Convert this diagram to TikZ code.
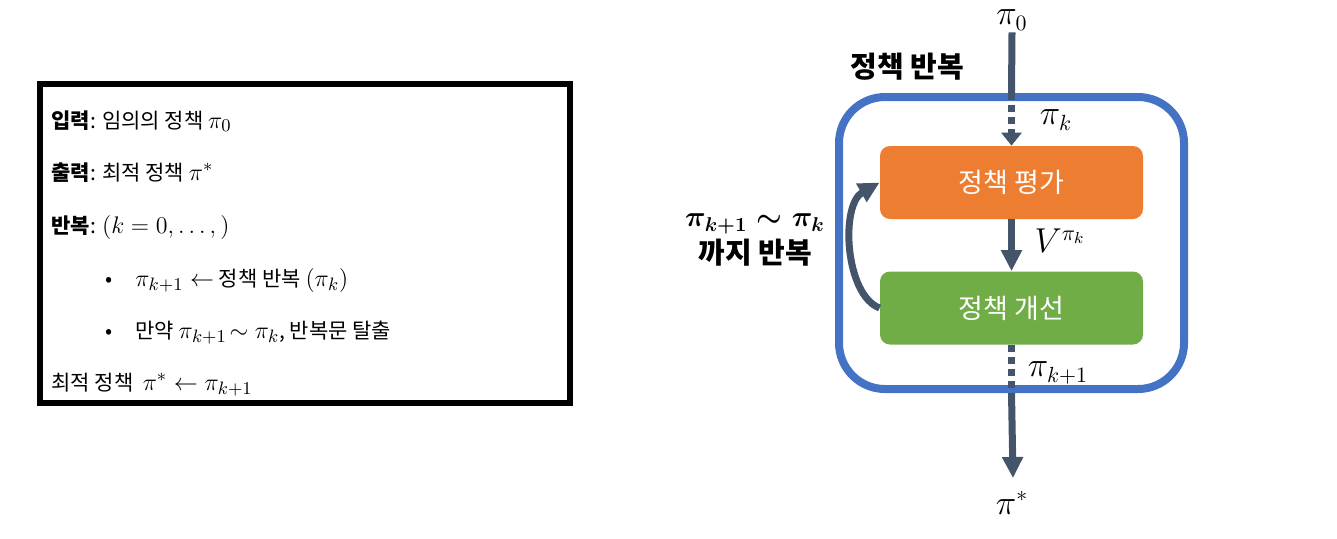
\documentclass[tikz,border=0pt]{standalone}
\usepackage{fontspec}
\setmainfont{Noto Sans CJK KR}
\usetikzlibrary{positioning,arrows.meta}
\definecolor{arr}{HTML}{44546A}
\definecolor{frm}{HTML}{4472C4}
\definecolor{evc}{HTML}{ED7D31}
\definecolor{imc}{HTML}{70AD47}
\newcommand\mfs{\fontsize{12.5}{13}\selectfont}
\tikzset{
  txt/.style={anchor=base west,inner sep=0pt,font=\fontsize{10.5}{12}\selectfont},
  blk/.style={rounded corners=5pt,minimum width=131.5pt,minimum height=36.5pt,
    text=white,font=\fontsize{13.5}{15}\selectfont},
  mlab/.style={inner sep=1pt,font=\fontsize{16}{18}\selectfont},
  blab/.style={inner sep=0pt,font=\fontsize{14.5}{15}\selectfont\bfseries},
  flow/.style={draw=arr,line width=3.5pt},
  dotflow/.style={draw=arr,line width=3.5pt,dash pattern=on 3.5pt off 2.5pt},
  head/.style={-{Triangle[width=10pt,length=10.5pt]}},
  shorthead/.style={-{Triangle[width=10pt,length=6.5pt]}},
}
\begin{document}
\begin{tikzpicture}[x=0.5pt,y=-0.5pt]
\useasboundingbox (0,0) rectangle (1337,538);
% algorithm box
\draw[line width=3pt] (40,84) rectangle (570,403);
\node[txt] (l1) at (51,128) {\textbf{입력}: 임의의 정책 {\mfs$\pi_0$}};
\node[txt] (l2) at (51,180) {\textbf{출력}: 최적 정책 {\mfs$\pi^*$}};
\node[txt] (l3) at (51,233) {\textbf{반복}: {\mfs$(k=0,\ldots,)$}};
\node[txt] (b1) at (105,286) {\textbullet};
\node[txt] (l4) at (135,286) {{\mfs$\pi_{k+1}\leftarrow$} 정책 반복 {\mfs$(\pi_k)$}};
\node[txt] (b2) at (105,338) {\textbullet};
\node[txt] (l5) at (135,338) {만약 {\mfs$\pi_{k+1}\!\sim\pi_k$}, 반복문 탈출};
\node[txt] (l6) at (51,390) {최적 정책 \ {\mfs$\pi^*\leftarrow\pi_{k+1}$}};
% policy iteration
\node[draw=frm,line width=4pt,rounded corners=23pt,minimum width=172.5pt,minimum height=146pt] (frame) at (1011.5,243) {};
\node[blk,fill=evc] (eval) at (1011.5,182.5) {정책 평가};
\node[blk,fill=imc] (imp) at (1011.5,308) {정책 개선};
\node[mlab] (p0) at (1012,20) {$\pi_0$};
\node[mlab] (pk) at (1056,120) {$\pi_k$};
\node[mlab] (vpk) at (1060,241) {$V^{\pi_k}$};
\node[mlab] (pk1) at (1058,373) {$\pi_{k+1}$};
\node[mlab] (ps) at (1012,503) {$\pi^*$};
\coordinate (tip) at (1013,478);
\node[blab] (ttl) at (907,67) {정책 반복};
\node[blab] (cond) at (755,224) {{\boldmath$\pi_{k+1}\sim\pi_k$}};
\node[blab,below=2pt of cond] (cond2) {까지 반복};
\draw[flow] (p0.south) -- (frame.north);
\draw[dotflow,shorthead] (frame.north) -- (eval.north);
\draw[flow,head] (eval) -- (imp);
\draw[dotflow] (imp.south) -- (frame.south);
\draw[flow,head] (frame.south) -- (tip);
\draw[flow,head] (imp.west) .. controls (845,295) and (840,205) .. (eval.west);
\end{tikzpicture}
\end{document}
